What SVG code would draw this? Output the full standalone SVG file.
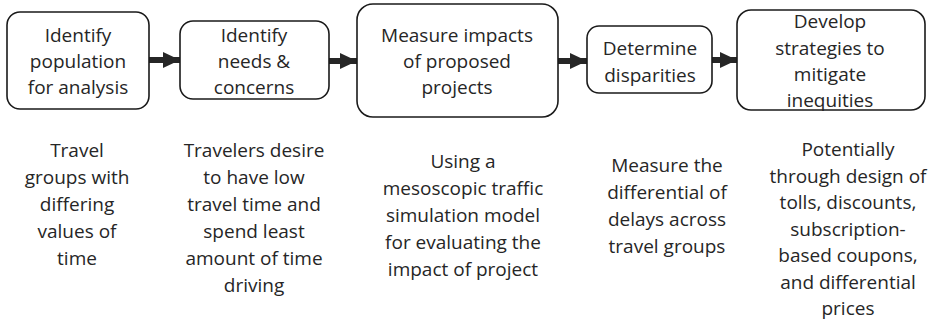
<svg xmlns="http://www.w3.org/2000/svg" width="932" height="321" viewBox="0 0 932 321">
  <style>
    .box { fill: #ffffff; stroke: #1a1a1a; stroke-width: 1.6; }
    .lbl { font-family: "Open Sans", "Liberation Sans", sans-serif; font-size: 19px; fill: #262626; text-anchor: middle; }
    .link { stroke: #262626; stroke-width: 6; fill: none; }
  </style>
  <defs>
    <marker id="head" markerUnits="userSpaceOnUse" markerWidth="17" markerHeight="16" refX="17" refY="8" orient="auto">
      <path d="M0,0 L17,8 L0,16 Z" fill="#262626"/>
    </marker>
  </defs>
  <rect width="932" height="321" fill="#ffffff"/>

  <!-- flow connectors -->
  <g id="connectors">
    <line class="link" x1="149" y1="60" x2="180" y2="60" marker-end="url(#head)"/>
    <line class="link" x1="329" y1="61" x2="357" y2="61" marker-end="url(#head)"/>
    <line class="link" x1="558" y1="61" x2="587" y2="61" marker-end="url(#head)"/>
    <line class="link" x1="712" y1="60" x2="737" y2="60" marker-end="url(#head)"/>
  </g>

  <!-- process steps -->
  <g id="step1">
    <rect class="box" x="7" y="12" width="142" height="97" rx="13"/>
    <text class="lbl" x="78" y="42">Identify</text>
    <text class="lbl" x="78" y="68">population</text>
    <text class="lbl" x="78" y="94">for analysis</text>
  </g>
  <g id="step2">
    <rect class="box" x="180" y="21" width="149" height="78" rx="13"/>
    <text class="lbl" x="254" y="42">Identify</text>
    <text class="lbl" x="254" y="68">needs &amp;</text>
    <text class="lbl" x="254" y="94">concerns</text>
  </g>
  <g id="step3">
    <rect class="box" x="357" y="4" width="201" height="113" rx="16"/>
    <text class="lbl" x="457" y="42">Measure impacts</text>
    <text class="lbl" x="457" y="68">of proposed</text>
    <text class="lbl" x="457" y="94">projects</text>
  </g>
  <g id="step4">
    <rect class="box" x="587" y="26" width="125" height="67" rx="12"/>
    <text class="lbl" x="650" y="55">Determine</text>
    <text class="lbl" x="650" y="82">disparities</text>
  </g>
  <g id="step5">
    <rect class="box" x="737" y="10" width="188" height="100" rx="14"/>
    <text class="lbl" x="830" y="28">Develop</text>
    <text class="lbl" x="830" y="55">strategies to</text>
    <text class="lbl" x="830" y="81">mitigate</text>
    <text class="lbl" x="830" y="107">inequities</text>
  </g>

  <!-- descriptions under each step -->
  <g id="note1">
    <text class="lbl" x="77" y="157">Travel</text>
    <text class="lbl" x="77" y="184">groups with</text>
    <text class="lbl" x="77" y="211">differing</text>
    <text class="lbl" x="77" y="238">values of</text>
    <text class="lbl" x="77" y="265">time</text>
  </g>
  <g id="note2">
    <text class="lbl" x="254" y="157">Travelers desire</text>
    <text class="lbl" x="254" y="184">to have low</text>
    <text class="lbl" x="254" y="211">travel time and</text>
    <text class="lbl" x="254" y="238">spend least</text>
    <text class="lbl" x="254" y="265">amount of time</text>
    <text class="lbl" x="254" y="292">driving</text>
  </g>
  <g id="note3">
    <text class="lbl" x="463" y="168">Using a</text>
    <text class="lbl" x="463" y="195">mesoscopic traffic</text>
    <text class="lbl" x="463" y="222">simulation model</text>
    <text class="lbl" x="463" y="249">for evaluating the</text>
    <text class="lbl" x="463" y="276">impact of project</text>
  </g>
  <g id="note4">
    <text class="lbl" x="667" y="172">Measure the</text>
    <text class="lbl" x="667" y="199">differential of</text>
    <text class="lbl" x="667" y="226">delays across</text>
    <text class="lbl" x="667" y="253">travel groups</text>
  </g>
  <g id="note5">
    <text class="lbl" x="848" y="156">Potentially</text>
    <text class="lbl" x="848" y="182.5">through design of</text>
    <text class="lbl" x="848" y="209">tolls, discounts,</text>
    <text class="lbl" x="848" y="235.5">subscription-</text>
    <text class="lbl" x="848" y="262">based coupons,</text>
    <text class="lbl" x="848" y="288.5">and differential</text>
    <text class="lbl" x="848" y="315">prices</text>
  </g>
</svg>
